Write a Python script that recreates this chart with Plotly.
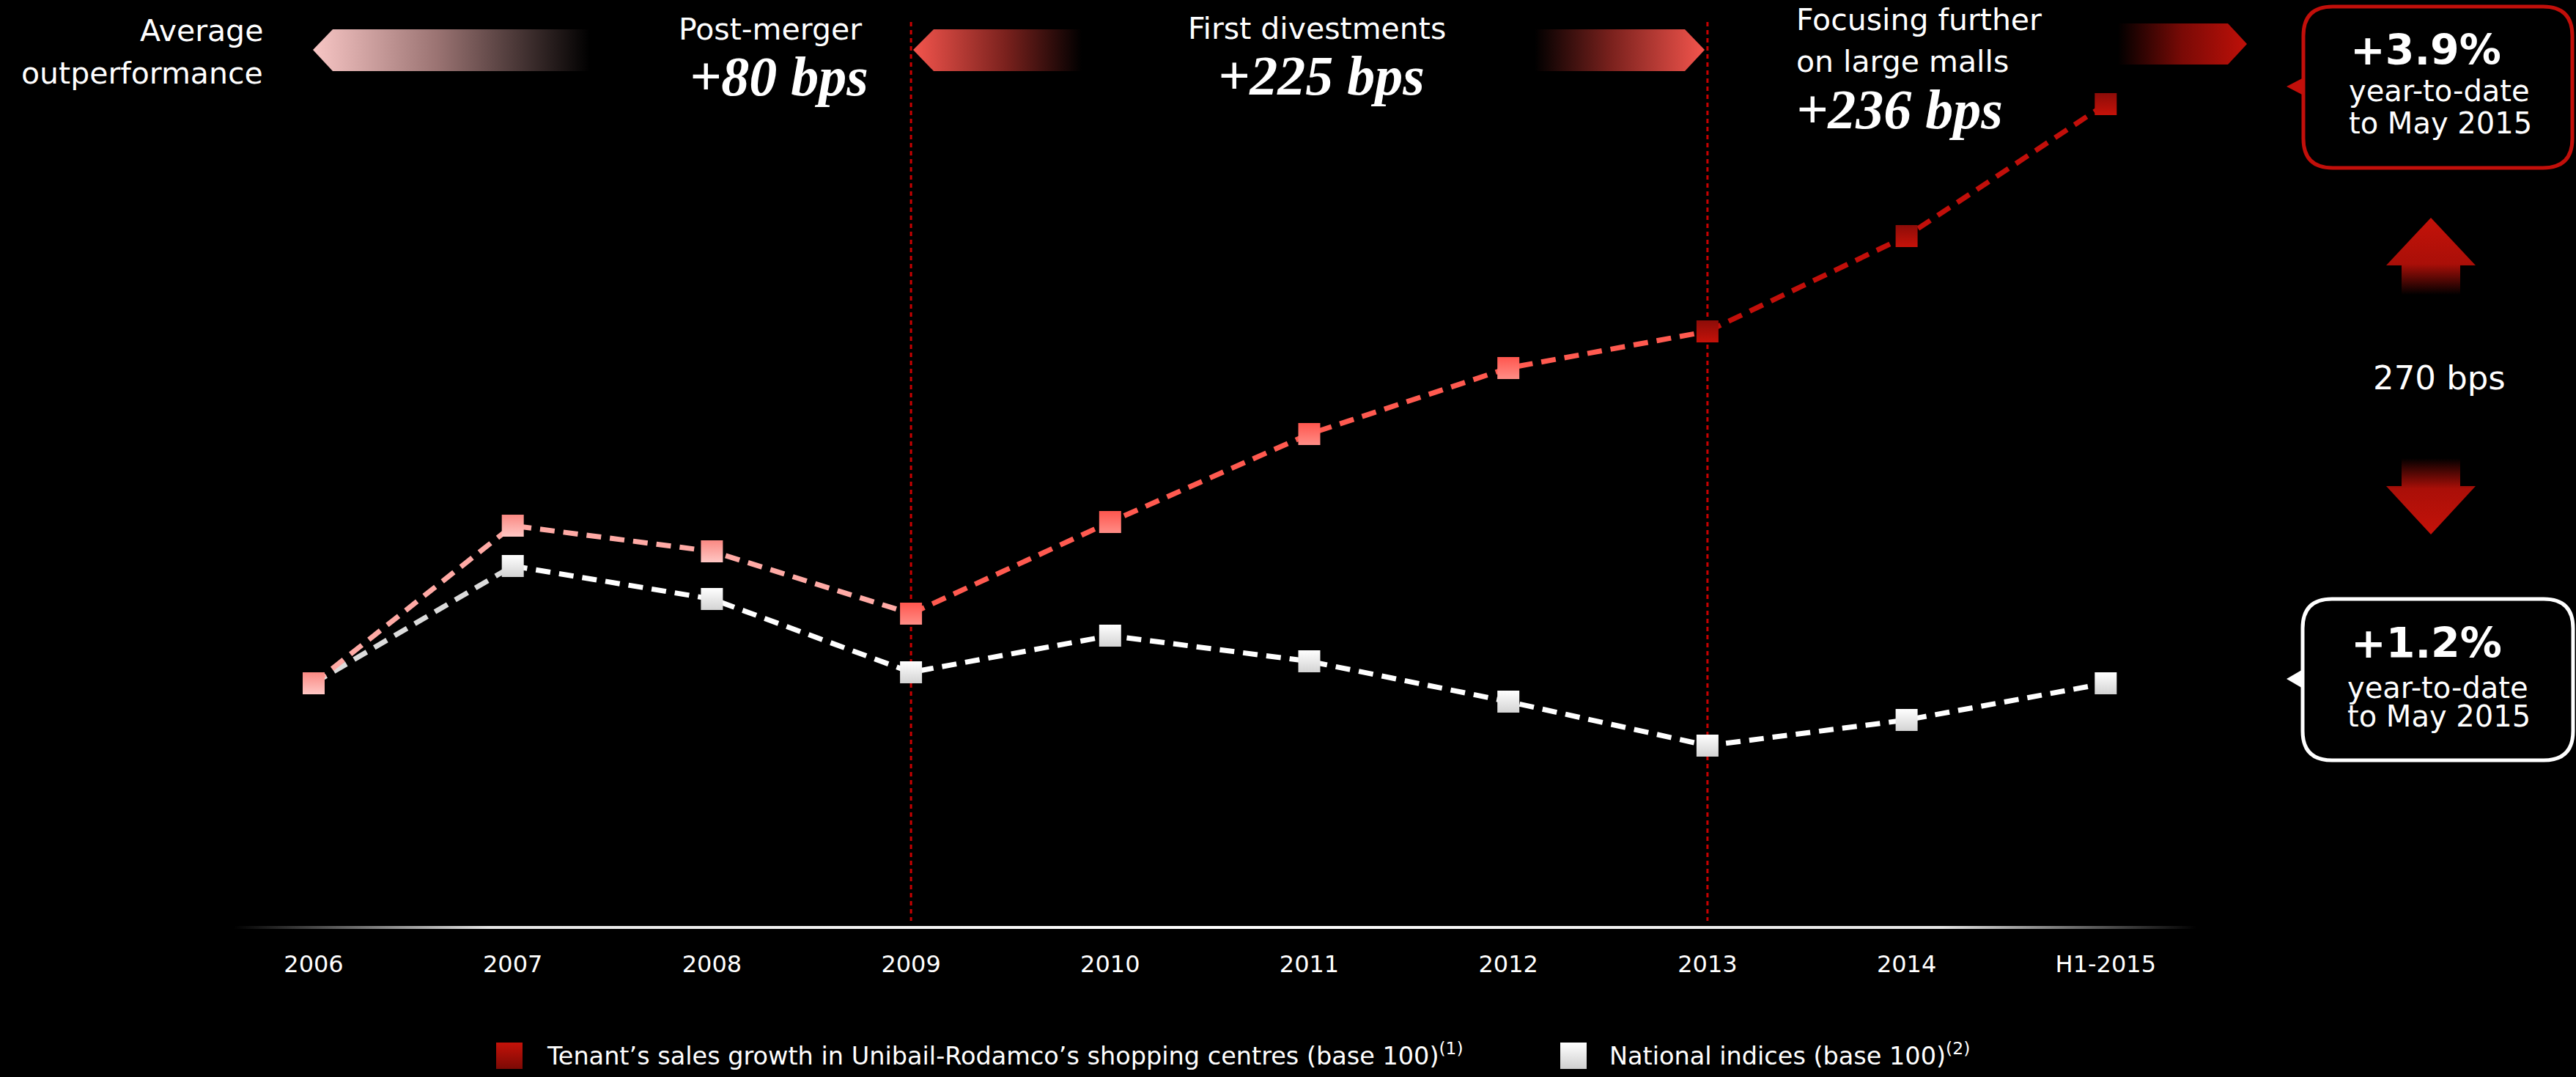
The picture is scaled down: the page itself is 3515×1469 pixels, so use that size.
import plotly.graph_objects as go

# ---------------------------------------------------------------- data
periods = ["2006", "2007", "2008", "2009", "2010", "2011", "2012", "2013", "2014", "H1-2015"]
unibail_index = [100.0, 104.3, 103.6, 101.9, 104.4, 106.8, 108.6, 109.6, 112.2, 115.8]
national_index = [100.0, 103.2, 102.3, 100.3, 101.3, 100.6, 99.5, 98.3, 99.0, 100.0]

phase_breaks = ["2009", "2013"]
phase_titles = ["Post-merger", "First divestments", "Focusing further", "on large malls"]
phase_outperformance = ["+80 bps", "+225 bps", "+236 bps"]
ytd_unibail = "+3.9%"
ytd_national = "+1.2%"
ytd_caption = ["year-to-date", "to May 2015"]
gap_label = "270 bps"
legend_labels = [
    "Tenant\u2019s sales growth in Unibail-Rodamco\u2019s shopping centres (base 100)<sup>(1)</sup>",
    "National indices (base 100)<sup>(2)</sup>",
]

# ---------------------------------------------------------------- canvas
W, H = 3515, 1469
SANS = "DejaVu Sans"
SERIF = "Liberation Serif"

x0_px, step_px = 428.0, 271.7       # page position of first period, spacing
base_px, px_per_pt = 932.0, 50.0    # page position of index 100, pixels per point
axis_px = 1265.0                    # page position of the baseline


def page_to_index(py):
    """Index level sitting at a given page row."""
    return 100 + (base_px - py) / px_per_pt


# colours of the three phases
PINK, SALMON, DARK = "#ffaaa5", "#ff5a50", "#c20f0a"
phase_line = [PINK, SALMON, DARK]
phase_marker_top = ["#fa8983", "#ff564e", "#8c0c08"]
phase_marker_bot = ["#ffc7c4", "#ff8d86", "#c51209"]

fig = go.Figure()


# overlay canvas axes (x, y) expressed in page pixels for decorations
def deco(xs, ys, colorscale, gtype="horizontal", start=None, stop=None):
    fg = dict(type=gtype, colorscale=colorscale)
    if start is not None:
        fg["start"] = start
        fg["stop"] = stop
    fig.add_trace(go.Scatter(
        x=xs, y=ys, xaxis="x", yaxis="y", mode="lines", fill="toself",
        line=dict(width=0, color="rgba(0,0,0,0)"), fillgradient=fg,
        hoverinfo="skip", showlegend=False))


# phase banners
deco([427, 454, 805, 805, 454, 427], [68, 40, 40, 97, 97, 68],
     [[0, "#f8c6c5"], [0.45, "#9a7372"], [1, "#000000"]])
deco([1246, 1274, 1476, 1476, 1274, 1246], [68, 40, 40, 97, 97, 68],
     [[0, "#f4554d"], [0.55, "#7a211d"], [1, "#000000"]])
deco([2094, 2299, 2326, 2299, 2094, 2094], [40, 40, 68, 97, 97, 40],
     [[0, "#000000"], [0.45, "#7a211d"], [1, "#f4554d"]])
deco([2890, 3040, 3066, 3040, 2890, 2890], [32, 32, 60, 88, 88, 32],
     [[0, "#000000"], [0.5, "#7a0a06"], [1, "#bf1009"]])

# gap arrows between the two year-to-date boxes
deco([3317, 3378, 3357, 3357, 3277, 3277, 3256, 3317],
     [297, 362, 362, 402, 402, 362, 362, 297],
     [[0, "#c41209"], [0.6, "#aa0f08"], [1, "#000000"]], "vertical", 297, 402)
deco([3277, 3357, 3357, 3378, 3317, 3256, 3277, 3277],
     [625, 625, 663, 663, 729, 663, 663, 625],
     [[0, "#000000"], [0.4, "#aa0f08"], [1, "#c41209"]], "vertical", 625, 729)

# baseline with faded ends
deco([319, 2997, 2997, 319, 319], [1263, 1263, 1267, 1267, 1263],
     [[0, "#000000"], [0.13, "#e6e6e6"], [0.5, "#ffffff"], [0.87, "#e6e6e6"], [1, "#000000"]])

# legend swatches
fig.add_trace(go.Scatter(
    x=[695, 2147], y=[1440, 1440], xaxis="x", yaxis="y", mode="markers",
    marker=dict(symbol="square", size=36, color=["#c41209", "#ffffff"],
                gradient=dict(type="vertical", color=["#7c0a05", "#cfcfcf"]),
                line=dict(width=0)),
    hoverinfo="skip", showlegend=False))

# ---------------------------------------------------------------- series
DASH = "20px,12px"
LW = 7

# dotted phase separators, from just under the banners down to the baseline
for p in phase_breaks:
    fig.add_trace(go.Scatter(
        x=[p, p], y=[page_to_index(30), page_to_index(1256)], xaxis="x2", yaxis="y2",
        mode="lines", line=dict(color="#c80000", width=3, dash="6px,5px"),
        hoverinfo="skip", showlegend=False))


def seg_bounds():
    cuts = [0] + [periods.index(p) for p in phase_breaks] + [len(periods) - 1]
    return [(cuts[i], cuts[i + 1]) for i in range(len(cuts) - 1)]


# national indices
fig.add_trace(go.Scatter(
    x=periods[0:2], y=national_index[0:2], xaxis="x2", yaxis="y2", mode="lines",
    line=dict(color="#dcdcdc", width=LW, dash=DASH), hoverinfo="skip", showlegend=False))
fig.add_trace(go.Scatter(
    x=periods[1:], y=national_index[1:], xaxis="x2", yaxis="y2", mode="lines",
    line=dict(color="#ffffff", width=LW, dash=DASH), hoverinfo="skip", showlegend=False))
fig.add_trace(go.Scatter(
    x=periods, y=national_index, xaxis="x2", yaxis="y2", mode="markers",
    marker=dict(symbol="square", size=30, color="#ffffff",
                gradient=dict(type="vertical", color="#d3d3d3"), line=dict(width=0)),
    showlegend=False))

# Unibail-Rodamco tenant sales, one colour per phase
for k, (a, b) in enumerate(seg_bounds()):
    fig.add_trace(go.Scatter(
        x=periods[a:b + 1], y=unibail_index[a:b + 1], xaxis="x2", yaxis="y2", mode="lines",
        line=dict(color=phase_line[k], width=LW, dash=DASH), hoverinfo="skip", showlegend=False))

m_top, m_bot = [], []
for k, (a, b) in enumerate(seg_bounds()):
    n = (b - a) if k < 2 else (b - a + 1)
    m_top += [phase_marker_top[k]] * n
    m_bot += [phase_marker_bot[k]] * n
fig.add_trace(go.Scatter(
    x=periods, y=unibail_index, xaxis="x2", yaxis="y2", mode="markers",
    marker=dict(symbol="square", size=30, color=m_top,
                gradient=dict(type="vertical", color=m_bot), line=dict(width=0)),
    showlegend=False))

# ---------------------------------------------------------------- shapes
shapes = []


def rounded_box(L, R, T, B, r):
    return (f"M {L + r},{T} H {R - r} Q {R},{T} {R},{T + r} V {B - r} Q {R},{B} {R - r},{B} "
            f"H {L + r} Q {L},{B} {L},{B - r} V {T + r} Q {L},{T} {L + r},{T} Z")


shapes.append(dict(type="path", xref="x", yref="y", path=rounded_box(3143, 3510, 9, 229, 40),
                   line=dict(color="#c20f0a", width=5), fillcolor="#000000"))
shapes.append(dict(type="path", xref="x", yref="y", path="M 3145,105 L 3120,118 L 3145,131 Z",
                   line=dict(width=0), fillcolor="#c20f0a"))
shapes.append(dict(type="path", xref="x", yref="y", path=rounded_box(3142, 3511, 817, 1037, 40),
                   line=dict(color="#ffffff", width=5), fillcolor="#000000"))
shapes.append(dict(type="path", xref="x", yref="y", path="M 3144,912 L 3120,926 L 3144,940 Z",
                   line=dict(width=0), fillcolor="#ffffff"))

# ---------------------------------------------------------------- text
ann = []


def txt(x, y, s, size, xanchor="center", family=SANS, bold=False, italic=False):
    t = s
    if bold:
        t = f"<b>{t}</b>"
    if italic:
        t = f"<i>{t}</i>"
    ann.append(dict(x=x, y=y, xref="x", yref="y", text=t, showarrow=False,
                    xanchor=xanchor, yanchor="middle",
                    font=dict(family=family, size=size, color="#ffffff")))


txt(361, 42, "Average", 41, "right")
txt(361, 100, "outperformance", 41, "right")
txt(1051, 40, phase_titles[0], 41)
txt(1063, 104, phase_outperformance[0], 76, family=SERIF, bold=True, italic=True)
txt(1797, 39, phase_titles[1], 41)
txt(1803, 103, phase_outperformance[1], 76, family=SERIF, bold=True, italic=True)
txt(2449, 27, phase_titles[2], 41, "left")
txt(2449, 84, phase_titles[3], 41, "left")
txt(2449, 149, phase_outperformance[2], 76, "left", family=SERIF, bold=True, italic=True)

txt(3205, 68, ytd_unibail, 57, "left", bold=True)
txt(3203, 124, ytd_caption[0], 40, "left")
txt(3203, 168, ytd_caption[1], 40, "left")
txt(3328, 515, gap_label, 45)
txt(3206, 877, ytd_national, 57, "left", bold=True)
txt(3201, 938, ytd_caption[0], 40, "left")
txt(3201, 977, ytd_caption[1], 40, "left")

txt(744, 1438, legend_labels[0], 33.5, "left")
txt(2194, 1438, legend_labels[1], 33.5, "left")

# ---------------------------------------------------------------- layout
fig.update_layout(
    width=W, height=H, margin=dict(l=0, r=0, t=0, b=0),
    paper_bgcolor="#000000", plot_bgcolor="rgba(0,0,0,0)",
    showlegend=False, shapes=shapes, annotations=ann,
    xaxis=dict(domain=[0, 1], range=[0, W], visible=False, fixedrange=True),
    yaxis=dict(domain=[0, 1], range=[H, 0], visible=False, fixedrange=True),
    xaxis2=dict(domain=[0, 1], anchor="y2", type="category", categoryorder="array",
                categoryarray=periods,
                range=[-x0_px / step_px, (W - x0_px) / step_px],
                showgrid=False, zeroline=False, showline=False, ticks="",
                ticklabelstandoff=28,
                tickfont=dict(family=SANS, size=32, color="#ffffff")),
    yaxis2=dict(domain=[(H - axis_px) / H, 1], anchor="x2",
                range=[page_to_index(axis_px), page_to_index(0)],
                visible=False),
)

fig.write_html("out.html")
